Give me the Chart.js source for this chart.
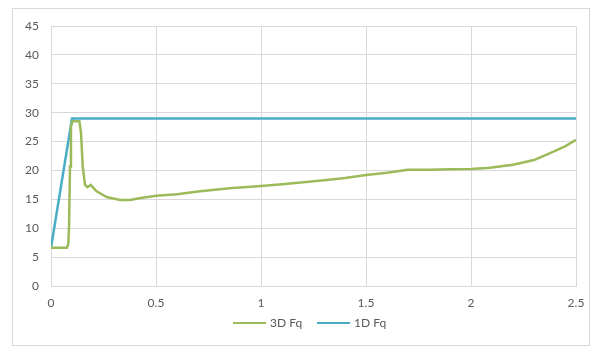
<!DOCTYPE html>
<html>
<head>
<meta charset="utf-8">
<script src="https://cdn.jsdelivr.net/npm/chart.js@4"></script>
<style>
    html, body { margin: 0; padding: 0; background: #fff; }
    #wrap { position: relative; width: 598px; height: 358px; font-family: Lato, "Open Sans", sans-serif; }
    #frame { position: absolute; left: 12px; top: 8px; width: 578px; height: 338px; border: 1px solid #d9d9d9; box-sizing: border-box; pointer-events: none; }
    .key { position: absolute; top: 315px; height: 16px; line-height: 16px; font-size: 12px; color: #595959; white-space: nowrap; }
    .key i { display: inline-block; width: 33px; height: 2.5px; vertical-align: middle; margin-right: 4px; position: relative; top: -1px; }
</style>
</head>
<body>
<div id="wrap">
    <canvas id="chart" width="598" height="358"></canvas>
    <div id="frame"></div>
    <div id="legend"></div>
</div>
<script>
// values
const fq3dX = [0, 0.075, 0.082, 0.086, 0.0905, 0.095, 0.103, 0.135, 0.143, 0.151, 0.162, 0.173, 0.189, 0.217, 0.265, 0.329, 0.376, 0.42, 0.5, 0.6, 0.71, 0.85, 1.0, 1.1, 1.19, 1.3, 1.4, 1.5, 1.6, 1.7, 1.8, 1.9, 2.0, 2.09, 2.2, 2.3, 2.39, 2.45, 2.5];
const fq3dY = [6.6, 6.6, 7.2, 10.3, 20.7, 27.6, 28.5, 28.5, 26.5, 20.7, 17.5, 17.1, 17.5, 16.4, 15.4, 14.9, 14.9, 15.2, 15.6, 15.9, 16.4, 16.9, 17.3, 17.6, 17.9, 18.3, 18.7, 19.2, 19.6, 20.1, 20.1, 20.2, 20.25, 20.45, 21.0, 21.8, 23.2, 24.2, 25.3];
const fq1dX = [0, 0.1, 2.5];
const fq1dY = [6.6, 29, 29];
const seriesNames = ['3D Fq', '1D Fq'];
const seriesColors = ['#9bbb59', '#4bacc6'];

const toPoints = (xs, ys) => xs.map((x, i) => ({ x: x, y: ys[i] }));

const tickFont = { family: 'Lato, "Open Sans", sans-serif', size: 12 };

const chart = new Chart(document.getElementById('chart'), {
    type: 'line',
    data: {
        datasets: seriesNames.map((name, i) => ({
            label: name,
            data: i === 0 ? toPoints(fq3dX, fq3dY) : toPoints(fq1dX, fq1dY),
            borderColor: seriesColors[i],
            borderWidth: 2.5,
            pointRadius: 0,
            tension: 0
        }))
    },
    options: {
        responsive: false,
        animation: false,
        layout: { padding: { left: 12, right: 22, top: 26, bottom: 42 } },
        scales: {
            x: {
                type: 'linear',
                min: 0,
                max: 2.5,
                ticks: { stepSize: 0.5, color: '#595959', font: tickFont, padding: 10, callback: v => String(v) },
                grid: { color: '#d9d9d9', tickLength: 0 },
                border: { color: '#d9d9d9' },
                afterFit: s => { s.height = 30; }
            },
            y: {
                min: 0,
                max: 45,
                ticks: { stepSize: 5, color: '#595959', font: tickFont, padding: 12 },
                grid: { color: '#d9d9d9', tickLength: 0 },
                border: { color: '#d9d9d9' },
                afterFit: s => { s.width = 39; }
            }
        },
        plugins: {
            legend: { display: false },
            tooltip: { enabled: false }
        }
    }
});

// legend under the plot, built from the datasets
const legend = document.getElementById('legend');
const keyLeft = [233, 317];
chart.data.datasets.forEach((ds, i) => {
    const d = document.createElement('div');
    d.className = 'key';
    d.style.left = keyLeft[i] + 'px';
    d.innerHTML = '<i style="background:' + ds.borderColor + '"></i>' + ds.label;
    legend.appendChild(d);
});
</script>
</body>
</html>
